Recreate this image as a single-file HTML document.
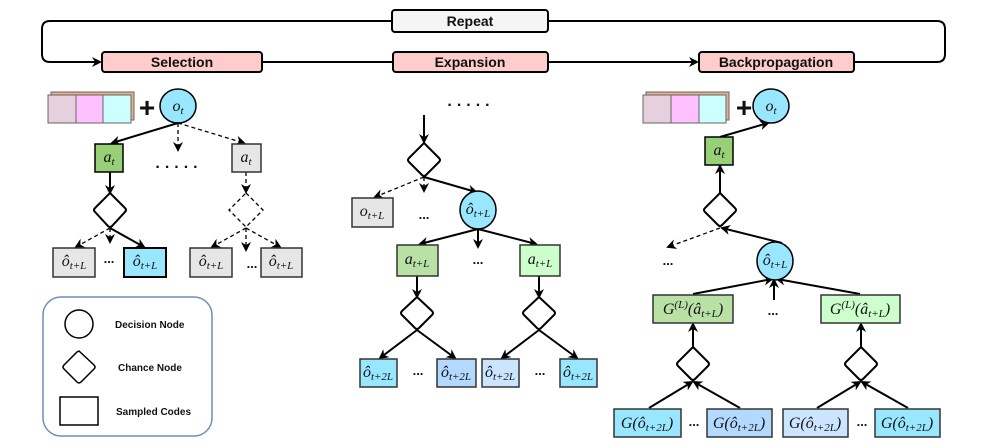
<!DOCTYPE html>
<html><head><meta charset="utf-8"><style>
html,body{margin:0;padding:0;background:#fff;}
svg{display:block;}
.h{font-family:"Liberation Sans",sans-serif;font-weight:bold;font-size:14px;text-anchor:middle;fill:#111;}
.l{font-family:"Liberation Sans",sans-serif;font-weight:bold;font-size:10px;fill:#111;}
.m{font-family:"Liberation Serif",serif;font-style:italic;font-size:16px;text-anchor:middle;fill:#111;}
.s{font-size:11px;}
.d{font-family:"Liberation Sans",sans-serif;font-weight:bold;font-size:13px;text-anchor:middle;fill:#111;}
.dd{font-family:"Liberation Sans",sans-serif;font-weight:bold;font-size:16px;text-anchor:middle;fill:#111;letter-spacing:5px;}
</style></head><body>
<svg width="997" height="448" viewBox="0 0 997 448" xmlns="http://www.w3.org/2000/svg">
<defs>
<marker id="a" markerWidth="10" markerHeight="10" refX="8" refY="5" orient="auto" markerUnits="userSpaceOnUse">
<path d="M0,0 L10,5 L0,10 L3,5 z" fill="#000"/></marker>
</defs>
<g fill="none" stroke="#000" stroke-width="2">
<path d="M392,21 H50 Q42,21 42,29 V54 Q42,62 50,62 H100" marker-end="url(#a)"/>
<path d="M548,21 H937 Q945,21 945,29 V54 Q945,62 937,62 H854"/>
<path d="M262,62 H393"/>
<path d="M548,62 H697" marker-end="url(#a)"/>
</g>
<rect x="392" y="10" width="156" height="22" rx="3" fill="#f5f5f5" stroke="#000" stroke-width="2"/>
<text class="h" x="470" y="26" fill="#333">Repeat</text>
<rect x="102" y="52" width="160" height="20" rx="3" fill="#ffcccc" stroke="#000" stroke-width="2"/>
<text class="h" x="182" y="67">Selection</text>
<rect x="393" y="52" width="155" height="20" rx="3" fill="#ffcccc" stroke="#000" stroke-width="2"/>
<text class="h" x="470" y="67">Expansion</text>
<rect x="699" y="52" width="155" height="20" rx="3" fill="#ffcccc" stroke="#000" stroke-width="2"/>
<text class="h" x="776" y="67">Backpropagation</text>

<!-- Selection -->
<g stroke="#666" stroke-width="1">
<rect x="51" y="92" width="83" height="28" fill="#e8b08a"/>
<rect x="48" y="95" width="28" height="28" fill="#e6d0de"/>
<rect x="76" y="95" width="27" height="28" fill="#ffc0ff"/>
<rect x="103" y="95" width="28" height="28" fill="#ccffff"/>
</g>
<text x="147" y="117" class="d" style="font-size:28px">+</text>
<ellipse cx="178" cy="106" rx="18" ry="17" fill="#99e6ff" stroke="#000" stroke-width="1.5"/>
<text class="m" x="178" y="111">o<tspan class="s" dy="3">t</tspan></text>
<g fill="none" stroke="#000" stroke-width="2">
<path d="M178,123 L112,143" marker-end="url(#a)"/>
<path d="M110,172 V193" marker-end="url(#a)"/>
<path d="M110,228 L144,247" marker-end="url(#a)"/>
</g>
<g fill="none" stroke="#000" stroke-width="1.3" stroke-dasharray="4,3">
<path d="M178,123 V150" marker-end="url(#a)"/>
<path d="M178,123 L244,143" marker-end="url(#a)"/>
<path d="M246,172 V192" marker-end="url(#a)"/>
<path d="M246,193 L263,210 L246,227 L229,210 Z"/>
<path d="M110,228 L76,247" marker-end="url(#a)"/>
<path d="M110,228 V242" marker-end="url(#a)"/>
<path d="M246,228 L212,247" marker-end="url(#a)"/>
<path d="M246,228 V250" marker-end="url(#a)"/>
<path d="M246,228 L280,247" marker-end="url(#a)"/>
</g>
<rect x="95" y="144" width="28" height="28" fill="#97d077" stroke="#000" stroke-width="1.5"/>
<text class="m" x="109" y="162">a<tspan class="s" dy="3">t</tspan></text>
<rect x="232" y="144" width="29" height="28" fill="#e6e6e6" stroke="#333" stroke-width="1.5"/>
<text class="m" x="246" y="162">a<tspan class="s" dy="3">t</tspan></text>
<text class="dd" x="179" y="168">.....</text>
<path d="M110,193 L125,208 Q127,210 125,212 L112,226 Q110,228 108,226 L95,212 Q93,210 95,208 Z" fill="#fff" stroke="#000" stroke-width="2"/>
<g stroke-width="1.5">
<rect x="53" y="248" width="42" height="29" fill="#e6e6e6" stroke="#333"/>
<rect x="124" y="248" width="42" height="29" fill="#99e6ff" stroke="#000" stroke-width="2"/>
<rect x="190" y="248" width="42" height="29" fill="#e6e6e6" stroke="#333"/>
<rect x="261" y="248" width="41" height="29" fill="#e6e6e6" stroke="#333"/>
</g>
<text class="m" x="74" y="266">ô<tspan class="s" dy="3">t+L</tspan></text>
<text class="m" x="145" y="266">ô<tspan class="s" dy="3">t+L</tspan></text>
<text class="m" x="211" y="266">ô<tspan class="s" dy="3">t+L</tspan></text>
<text class="m" x="281" y="266">ô<tspan class="s" dy="3">t+L</tspan></text>
<text class="d" x="109" y="263">...</text>
<text class="d" x="252" y="268">...</text>

<!-- legend -->
<rect x="43" y="297" width="169" height="139" rx="18" fill="#fff" stroke="#6c8ebf" stroke-width="1.5"/>
<circle cx="79" cy="324" r="14" fill="#fff" stroke="#000" stroke-width="1.5"/>
<path d="M79,351 L94,365 Q96,367 94,369 L81,382 Q79,384 77,382 L64,369 Q62,367 64,365 L77,352 Z" fill="#fff" stroke="#000" stroke-width="1.5"/>
<rect x="60" y="397" width="38" height="28" fill="#fff" stroke="#000" stroke-width="1.5"/>
<text class="l" x="115" y="328">Decision Node</text>
<text class="l" x="118" y="371">Chance Node</text>
<text class="l" x="116" y="415">Sampled Codes</text>

<!-- Expansion -->
<text class="dd" x="471" y="106">.....</text>
<g fill="none" stroke="#000" stroke-width="2">
<path d="M424,115 V142" marker-end="url(#a)"/>
<path d="M424,177 L476,192" marker-end="url(#a)"/>
<path d="M478,229 L420,244" marker-end="url(#a)"/>
<path d="M478,229 V247" marker-end="url(#a)"/>
<path d="M478,229 L536,244" marker-end="url(#a)"/>
<path d="M417,272 V297" marker-end="url(#a)"/>
<path d="M539,272 V297" marker-end="url(#a)"/>
<path d="M417,330 L380,358" marker-end="url(#a)"/>
<path d="M417,330 L455,358" marker-end="url(#a)"/>
<path d="M539,330 L502,358" marker-end="url(#a)"/>
<path d="M539,330 L577,358" marker-end="url(#a)"/>
</g>
<g fill="none" stroke="#000" stroke-width="1.3" stroke-dasharray="4,3">
<path d="M424,177 L375,197" marker-end="url(#a)"/>
<path d="M424,177 V191" marker-end="url(#a)"/>
</g>
<path d="M424,143 L439,158 Q441,160 439,162 L426,175 Q424,177 422,175 L409,162 Q407,160 409,158 Z" fill="#fff" stroke="#000" stroke-width="2"/>
<rect x="352" y="198" width="41" height="29" fill="#e6e6e6" stroke="#333" stroke-width="1.5"/>
<text class="m" x="372" y="216">o<tspan class="s" dy="3">t+L</tspan></text>
<text class="d" x="424" y="219">...</text>
<ellipse cx="478" cy="210" rx="18" ry="19" fill="#99e6ff" stroke="#000" stroke-width="1.5"/>
<text class="m" x="478" y="214">ô<tspan class="s" dy="3">t+L</tspan></text>
<rect x="397" y="245" width="41" height="31" fill="#b9e0a5" stroke="#333" stroke-width="1.5"/>
<text class="m" x="417" y="264">a<tspan class="s" dy="3">t+L</tspan></text>
<rect x="520" y="245" width="40" height="31" fill="#ccffcc" stroke="#333" stroke-width="1.5"/>
<text class="m" x="540" y="264">a<tspan class="s" dy="3">t+L</tspan></text>
<text class="d" x="478" y="264">...</text>
<path d="M417,297 L432,311 Q434,313 432,315 L419,328 Q417,330 415,328 L402,315 Q400,313 402,311 Z" fill="#fff" stroke="#000" stroke-width="2"/>
<path d="M539,297 L554,311 Q556,313 554,315 L541,328 Q539,330 537,328 L524,315 Q522,313 524,311 Z" fill="#fff" stroke="#000" stroke-width="2"/>
<g stroke="#333" stroke-width="1.5">
<rect x="360" y="359" width="37" height="28" fill="#99e6ff"/>
<rect x="437" y="359" width="39" height="28" fill="#b3d9ff"/>
<rect x="482" y="359" width="37" height="28" fill="#cce5ff"/>
<rect x="560" y="359" width="37" height="28" fill="#99e6ff"/>
</g>
<text class="m" x="378" y="377">ô<tspan class="s" dy="3">t+2L</tspan></text>
<text class="m" x="456" y="377">ô<tspan class="s" dy="3">t+2L</tspan></text>
<text class="m" x="500" y="377">ô<tspan class="s" dy="3">t+2L</tspan></text>
<text class="m" x="578" y="377">ô<tspan class="s" dy="3">t+2L</tspan></text>
<text class="d" x="418" y="375">...</text>
<text class="d" x="540" y="375">...</text>

<!-- Backpropagation -->
<g stroke="#666" stroke-width="1">
<rect x="646" y="92" width="83" height="28" fill="#e8b08a"/>
<rect x="643" y="95" width="28" height="28" fill="#e6d0de"/>
<rect x="671" y="95" width="28" height="28" fill="#ffc0ff"/>
<rect x="699" y="95" width="27" height="28" fill="#ccffff"/>
</g>
<text x="744" y="117" class="d" style="font-size:28px">+</text>
<ellipse cx="771" cy="106" rx="18" ry="17" fill="#99e6ff" stroke="#000" stroke-width="1.5"/>
<text class="m" x="771" y="111">o<tspan class="s" dy="3">t</tspan></text>
<g fill="none" stroke="#000" stroke-width="2">
<path d="M720,137 L768,123" marker-end="url(#a)"/>
<path d="M720,193 V166" marker-end="url(#a)"/>
<path d="M782,243 L722,228" marker-end="url(#a)"/>
<path d="M693,294 L772,279" marker-end="url(#a)"/>
<path d="M774,300 V280" marker-end="url(#a)"/>
<path d="M860,294 L777,279" marker-end="url(#a)"/>
<path d="M693,347 V324" marker-end="url(#a)"/>
<path d="M861,347 V324" marker-end="url(#a)"/>
<path d="M649,408 L692,382" marker-end="url(#a)"/>
<path d="M740,408 L694,382" marker-end="url(#a)"/>
<path d="M817,408 L860,382" marker-end="url(#a)"/>
<path d="M908,408 L862,382" marker-end="url(#a)"/>
</g>
<path d="M720,228 L668,247" fill="none" stroke="#000" stroke-width="1.3" stroke-dasharray="4,3" marker-end="url(#a)"/>
<rect x="705" y="137" width="28" height="28" fill="#97d077" stroke="#000" stroke-width="1.5"/>
<text class="m" x="719" y="155">a<tspan class="s" dy="3">t</tspan></text>
<path d="M720,193 L735,208 Q737,210 735,212 L722,225 Q720,227 718,225 L705,212 Q703,210 705,208 Z" fill="#fff" stroke="#000" stroke-width="2"/>
<text class="d" x="668" y="265">...</text>
<ellipse cx="775" cy="261" rx="18" ry="19" fill="#99e6ff" stroke="#000" stroke-width="1.5"/>
<text class="m" x="775" y="265">ô<tspan class="s" dy="3">t+L</tspan></text>
<rect x="653" y="295" width="80" height="28" fill="#b9e0a5" stroke="#333" stroke-width="1.5"/>
<text class="m" x="693" y="314">G<tspan class="s" dy="-6">(L)</tspan><tspan dy="6">(â</tspan><tspan class="s" dy="3">t+L</tspan><tspan dy="-3">)</tspan></text>
<rect x="821" y="295" width="79" height="28" fill="#ccffcc" stroke="#333" stroke-width="1.5"/>
<text class="m" x="860" y="314">G<tspan class="s" dy="-6">(L)</tspan><tspan dy="6">(â</tspan><tspan class="s" dy="3">t+L</tspan><tspan dy="-3">)</tspan></text>
<text class="d" x="773" y="315">...</text>
<path d="M693,347 L708,362 Q710,364 708,366 L695,379 Q693,381 691,379 L678,366 Q676,364 678,362 Z" fill="#fff" stroke="#000" stroke-width="2"/>
<path d="M861,347 L876,362 Q878,364 876,366 L863,379 Q861,381 859,379 L846,366 Q844,364 846,362 Z" fill="#fff" stroke="#000" stroke-width="2"/>
<g stroke="#333" stroke-width="1.5">
<rect x="614" y="409" width="67" height="28" fill="#99e6ff"/>
<rect x="707" y="409" width="65" height="28" fill="#b3d9ff"/>
<rect x="783" y="409" width="65" height="28" fill="#cce5ff"/>
<rect x="875" y="409" width="65" height="28" fill="#99e6ff"/>
</g>
<text class="m" x="647" y="428">G(ô<tspan class="s" dy="3">t+2L</tspan><tspan dy="-3">)</tspan></text>
<text class="m" x="739" y="428">G(ô<tspan class="s" dy="3">t+2L</tspan><tspan dy="-3">)</tspan></text>
<text class="m" x="815" y="428">G(ô<tspan class="s" dy="3">t+2L</tspan><tspan dy="-3">)</tspan></text>
<text class="m" x="907" y="428">G(ô<tspan class="s" dy="3">t+2L</tspan><tspan dy="-3">)</tspan></text>
<text class="d" x="694" y="426">...</text>
<text class="d" x="862" y="426">...</text>
</svg>
</body></html>
